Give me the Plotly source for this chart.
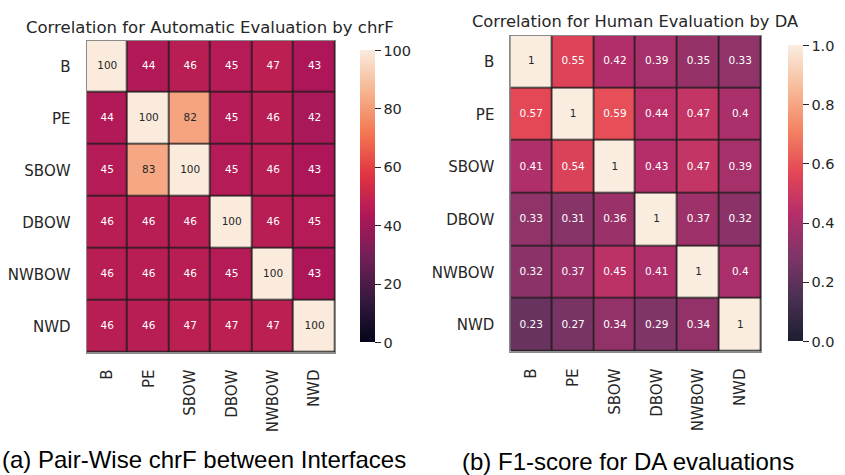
import plotly.graph_objects as go

labels = ["B", "PE", "SBOW", "DBOW", "NWBOW", "NWD"]

chrf_values = [
    [100, 44, 46, 45, 47, 43],
    [44, 100, 82, 45, 46, 42],
    [45, 83, 100, 45, 46, 43],
    [46, 46, 46, 100, 46, 45],
    [46, 46, 46, 45, 100, 43],
    [46, 46, 47, 47, 47, 100],
]

da_values = [
    [1, 0.55, 0.42, 0.39, 0.35, 0.33],
    [0.57, 1, 0.59, 0.44, 0.47, 0.4],
    [0.41, 0.54, 1, 0.43, 0.47, 0.39],
    [0.33, 0.31, 0.36, 1, 0.37, 0.32],
    [0.32, 0.37, 0.45, 0.41, 1, 0.4],
    [0.23, 0.27, 0.34, 0.29, 0.34, 1],
]

chrf_ticks = [0, 20, 40, 60, 80, 100]
da_ticks = [0.0, 0.2, 0.4, 0.6, 0.8, 1.0]
da_ticktext = ["0.0", "0.2", "0.4", "0.6", "0.8", "1.0"]

title_a = "Correlation for Automatic Evaluation by chrF"
title_b = "Correlation for Human Evaluation by DA"
caption_a = "(a) Pair-Wise chrF between Interfaces"
caption_b = "(b) F1-score for DA evaluations"

rocket = [
    [0.0, "#03051A"],
    [0.143, "#35193E"],
    [0.286, "#701F57"],
    [0.429, "#AD1759"],
    [0.571, "#E13342"],
    [0.714, "#F37651"],
    [0.857, "#F6B48F"],
    [1.0, "#FAEBDD"],
]

# the right panel is drawn slightly washed out (rocket at ~90% opacity on white)
rocket_soft = [
    [0.0, "#1C1E31"],
    [0.143, "#493051"],
    [0.286, "#7E3568"],
    [0.429, "#B52E6A"],
    [0.571, "#E44755"],
    [0.714, "#F48462"],
    [0.857, "#F7BC9A"],
    [1.0, "#FAEDE0"],
]

W, H = 845, 475
FONT = "DejaVu Sans"

# pixel layout
A_x = (88, 341); A_y = (40.5, 352.5)
B_x = (519, 774); B_y = (35.5, 351.5)


def px_dom(a, b):
    return [a / W, b / W]


def py_dom(top, bot):
    return [1 - bot / H, 1 - top / H]


fig = go.Figure()


def add_panel(vals, zmax, cscale, xa, ya, cb_x, dom_y, ticks, ticktext, fmt):
    fig.add_trace(go.Heatmap(
        z=vals, x=labels, y=labels, zmin=0, zmax=zmax,
        colorscale=cscale, xgap=1.5, ygap=1.5, xaxis=xa, yaxis=ya,
        hoverinfo="skip",
        colorbar=dict(
            x=cb_x / W, xanchor="left", y=dom_y[0], yanchor="bottom",
            len=dom_y[1] - dom_y[0], lenmode="fraction", thickness=15,
            outlinewidth=0, ticks="outside", ticklen=6, tickwidth=1.3,
            tickcolor="#262626", tickvals=ticks, ticktext=ticktext,
            tickfont=dict(family=FONT, size=14.5, color="#262626"),
        ),
    ))
    xs, ys, ts, cs = [], [], [], []
    for i, row in enumerate(vals):
        for j, v in enumerate(row):
            xs.append(labels[j]); ys.append(labels[i])
            ts.append(fmt(v))
            cs.append("#262626" if v / zmax > 0.75 else "#ffffff")
    fig.add_trace(go.Scatter(
        x=xs, y=ys, text=ts, mode="text", xaxis=xa, yaxis=ya,
        textfont=dict(family=FONT, size=10.5, color=cs),
        hoverinfo="skip", showlegend=False,
    ))


dA = py_dom(*A_y)
dB = py_dom(*B_y)
add_panel(chrf_values, 100, rocket, "x", "y", 356, dA, chrf_ticks,
          [str(t) for t in chrf_ticks], lambda v: f"{v:g}")
add_panel(da_values, 1, rocket_soft, "x2", "y2", 791, dB, da_ticks, da_ticktext,
          lambda v: f"{v:g}")

axis_common = dict(
    showgrid=False, zeroline=False, showline=True, mirror=True,
    linecolor="#8a8a8a", linewidth=1, ticks="",
    tickfont=dict(family=FONT, size=15, color="#262626"),
)


def ann(text, cx, cy, family, size, color):
    return dict(text=text, x=cx / W, y=1 - cy / H, xref="paper", yref="paper",
                xanchor="center", yanchor="middle", showarrow=False,
                font=dict(family=family, size=size, color=color))


fig.update_layout(
    width=W, height=H, margin=dict(l=0, r=0, t=0, b=0),
    paper_bgcolor="white", plot_bgcolor="#1c1c1c", showlegend=False,
    xaxis=dict(domain=px_dom(*A_x), anchor="y", tickangle=-90,
               ticklabelstandoff=10, **axis_common),
    yaxis=dict(domain=dA, anchor="x", autorange="reversed",
               ticklabelstandoff=12, **axis_common),
    xaxis2=dict(domain=px_dom(*B_x), anchor="y2", tickangle=-90,
                ticklabelstandoff=10, **axis_common),
    yaxis2=dict(domain=dB, anchor="x2", autorange="reversed",
                ticklabelstandoff=12, **axis_common),
    annotations=[
        ann(title_a, 214, 27, FONT, 16.5, "#262626"),
        ann(title_b, 646, 21, FONT, 16.3, "#262626"),
        ann(caption_a, 207, 459, "Liberation Sans", 24, "#000000"),
        ann(caption_b, 639, 461, "Liberation Sans", 24, "#000000"),
    ],
)

fig.write_html("out.html")
